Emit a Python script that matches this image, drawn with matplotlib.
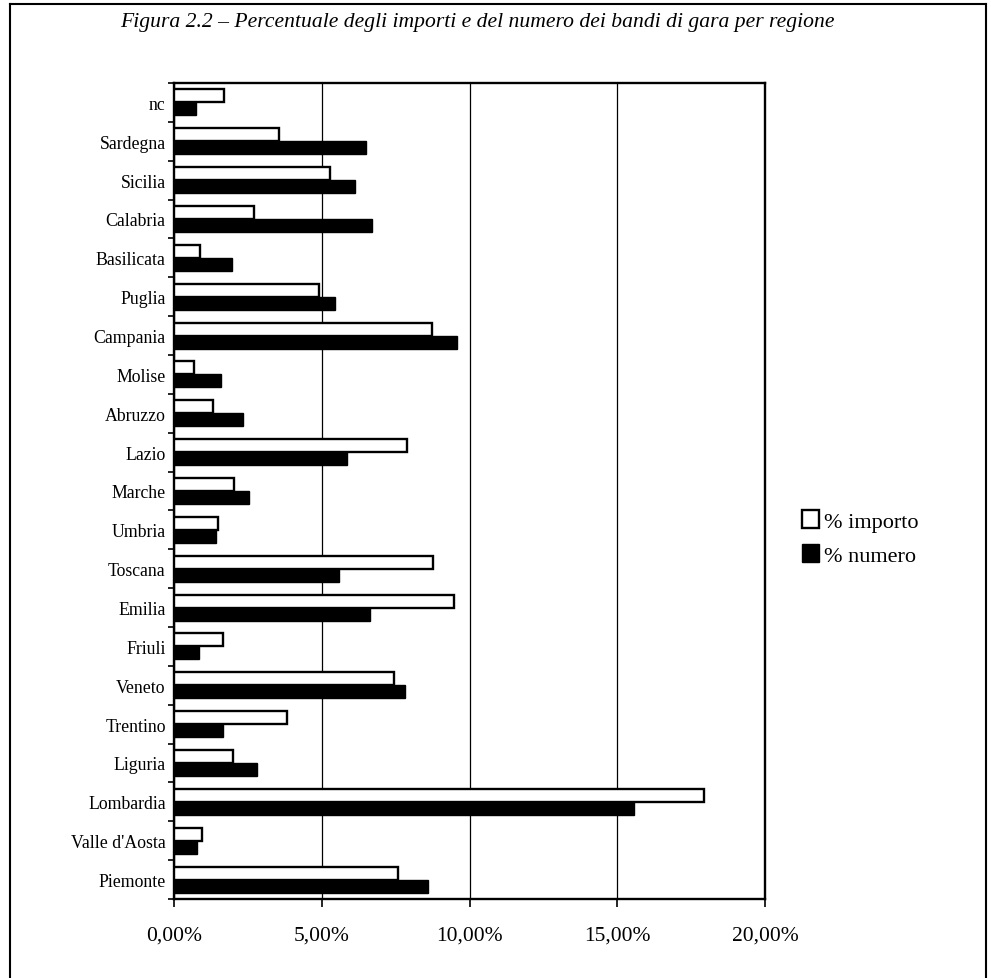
import numpy as np
import matplotlib
matplotlib.use("Agg")
import matplotlib.pyplot as plt
from matplotlib.lines import Line2D
from matplotlib.ticker import FuncFormatter, FixedLocator

# regioni dall'alto verso il basso, come nel grafico
regioni = ["nc", "Sardegna", "Sicilia", "Calabria", "Basilicata", "Puglia",
           "Campania", "Molise", "Abruzzo", "Lazio", "Marche", "Umbria",
           "Toscana", "Emilia", "Friuli", "Veneto", "Trentino", "Liguria",
           "Lombardia", "Valle d'Aosta", "Piemonte"]

# valori in percentuale
perc_importo = [1.68, 3.56, 5.28, 2.70, 0.89, 4.91, 8.74, 0.69, 1.32, 7.87,
                2.03, 1.50, 8.75, 9.48, 1.65, 7.45, 3.83, 1.98, 17.95, 0.94, 7.59]
perc_numero = [0.75, 6.51, 6.13, 6.71, 1.97, 5.46, 9.58, 1.58, 2.35, 5.87,
               2.55, 1.41, 5.58, 6.64, 0.85, 7.80, 1.65, 2.80, 15.58, 0.77, 8.58]

xticks = [0, 5, 10, 15, 20]
titolo = "Figura 2.2 – Percentuale degli importi e del numero dei bandi di gara per regione"

plt.rcParams["font.family"] = ["Liberation Serif", "DejaVu Serif"]

fig = plt.figure(figsize=(9.91, 9.79), dpi=100)
ax = fig.add_axes([0.1756, 0.0807, 0.5964, 0.8335])

n = len(regioni)
y = np.arange(n)[::-1]  # Piemonte in basso
h = 0.335

ax.barh(y + h / 2, perc_importo, height=h, color="white", edgecolor="black",
        linewidth=1.7, label="% importo", zorder=3)
ax.barh(y - h / 2, perc_numero, height=h, color="black", edgecolor="black",
        linewidth=1.0, label="% numero", zorder=3)

ax.set_xlim(0, 20)
ax.set_ylim(-0.5, n - 0.5)
ax.xaxis.set_major_locator(FixedLocator(xticks))
ax.xaxis.set_major_formatter(FuncFormatter(lambda v, p: f"{v:.2f}%".replace(".", ",")))
ax.grid(axis="x", color="black", linewidth=0.9, zorder=0)

ax.set_yticks(y)
ax.set_yticklabels(regioni, fontsize=12.8)
ax.set_yticks(np.arange(n + 1) - 0.5, minor=True)
ax.tick_params(axis="y", which="major", length=0, pad=6)
ax.tick_params(axis="y", which="minor", length=4, width=1.2, direction="out")
ax.tick_params(axis="x", length=6, width=1.2, direction="out", labelsize=15.5, pad=13)

for s in ax.spines.values():
    s.set_linewidth(1.7)

fig.legend(loc="center left", bbox_to_anchor=(802 / 991, 1 - 539 / 979),
           frameon=False, fontsize=16, handlelength=0.75, handleheight=0.85,
           handletextpad=0.25, labelspacing=0.55, borderpad=0, borderaxespad=0)

fig.text(0.482, 1 - 22 / 979, titolo, ha="center", va="center",
         fontsize=15.6, style="italic")

# cornice esterna
for xs, ys in [([10, 986], [5, 5]), ([10, 10], [5, 979]), ([986, 986], [5, 979])]:
    fig.add_artist(Line2D([v / 991 for v in xs], [1 - v / 979 for v in ys],
                          color="black", linewidth=1.5, transform=fig.transFigure))

fig.savefig("out.png", dpi=100)
